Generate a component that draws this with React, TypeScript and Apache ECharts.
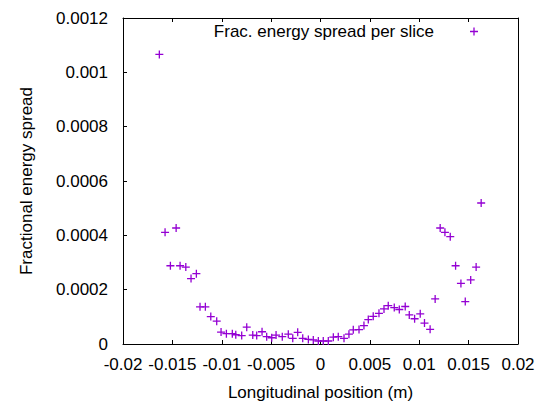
import React, { useEffect, useRef } from "react";
import * as echarts from "echarts";

// Longitudinal position (m) of each slice
const positions: number[] = [
  -0.01632, -0.01574, -0.0152, -0.01462, -0.01422, -0.01364, -0.01311, -0.01257,
  -0.0122, -0.01166, -0.01111, -0.01051, -0.01007, -0.00953, -0.00893, -0.00858,
  -0.00798, -0.00747, -0.00686, -0.00646, -0.00592, -0.00545, -0.00494, -0.0045,
  -0.00387, -0.00326, -0.00281, -0.00231, -0.0018, -0.00123, -0.00073, -0.00022,
  0.00028, 0.00079, 0.0013, 0.0018, 0.00238, 0.00288, 0.00332, 0.0039,
  0.0044, 0.00484, 0.00534, 0.00592, 0.00643, 0.00686, 0.00747, 0.00798,
  0.00858, 0.00899, 0.00953, 0.0101, 0.01053, 0.0111, 0.01161, 0.01212,
  0.0126, 0.01314, 0.01368, 0.01422, 0.01466, 0.01521, 0.01576, 0.01627,
];

// Fractional energy spread of each slice
const spreads: number[] = [
  0.001066, 0.000411, 0.000288, 0.000427, 0.000288, 0.000283, 0.000241, 0.000259,
  0.000137, 0.000137, 0.000101, 0.000084, 0.000044, 0.000038, 0.000038, 0.000034,
  0.000031, 0.000062, 0.000033, 0.000031, 0.000045, 0.000027, 0.000023, 0.000033,
  0.000027, 0.000036, 0.000021, 0.000043, 0.000021, 0.000017, 0.000015, 0.000011,
  0.000011, 0.000011, 0.000025, 0.000027, 0.000021, 0.000036, 0.000052, 0.000053,
  0.000068, 0.00009, 0.000102, 0.000113, 0.000129, 0.000141, 0.000134, 0.000127,
  0.000138, 0.000107, 0.000093, 0.000111, 0.000077, 0.000054, 0.000166, 0.000427,
  0.000411, 0.000395, 0.000288, 0.000223, 0.000156, 0.000236, 0.000283, 0.000519,
];

const seriesName = "Frac. energy spread per slice";
const xAxisTitle = "Longitudinal position (m)";
const yAxisTitle = "Fractional energy spread";

const PLUS = "path://M0,3.35h8v1.3h-8z M3.35,0h1.3v8h-1.3z";
const COLOR = "#9400d3";
const FONT = "'Liberation Sans', Arial, sans-serif";

export default function App() {
  const ref = useRef<HTMLDivElement>(null);

  useEffect(() => {
    if (!ref.current) return;
    const chart = echarts.init(ref.current, undefined, { renderer: "svg" });
    const data = positions.map((x, i) => [x, spreads[i]]);
    const labelStyle = { color: "#000", fontSize: 17, fontFamily: FONT };
    chart.setOption({
      animation: false,
      backgroundColor: "#fff",
      textStyle: { fontFamily: FONT },
      grid: { left: 123, right: 20, top: 18, bottom: 63, containLabel: false },
      legend: {
        data: [{ name: seriesName, icon: PLUS }],
        top: 18,
        right: 55,
        align: "right",
        itemWidth: 70,
        itemHeight: 8,
        textStyle: { ...labelStyle },
      },
      xAxis: [
        {
          type: "value",
          min: -0.02,
          max: 0.02,
          interval: 0.005,
          name: xAxisTitle,
          nameLocation: "middle",
          nameGap: 40,
          nameTextStyle: { ...labelStyle },
          axisLine: { show: true, onZero: false, lineStyle: { color: "#000", width: 1 } },
          axisTick: { show: true, inside: true, length: 4, lineStyle: { color: "#000" } },
          axisLabel: { ...labelStyle, margin: 12 },
          splitLine: { show: false },
        },
        {
          type: "value",
          position: "top",
          min: -0.02,
          max: 0.02,
          interval: 0.005,
          axisLine: { show: true, onZero: false, lineStyle: { color: "#000", width: 1 } },
          axisTick: { show: true, inside: true, length: 4, lineStyle: { color: "#000" } },
          axisLabel: { show: false },
          splitLine: { show: false },
        },
      ],
      yAxis: [
        {
          type: "value",
          min: 0,
          max: 0.0012,
          interval: 0.0002,
          name: yAxisTitle,
          nameLocation: "middle",
          nameGap: 88,
          nameTextStyle: { ...labelStyle },
          axisLine: { show: true, onZero: false, lineStyle: { color: "#000", width: 1 } },
          axisTick: { show: true, inside: true, length: 4, lineStyle: { color: "#000" } },
          axisLabel: { ...labelStyle, margin: 15 },
          splitLine: { show: false },
        },
        {
          type: "value",
          position: "right",
          min: 0,
          max: 0.0012,
          interval: 0.0002,
          axisLine: { show: true, onZero: false, lineStyle: { color: "#000", width: 1 } },
          axisTick: { show: false },
          axisLabel: { show: false },
          splitLine: { show: false },
        },
      ],
      series: [
        {
          name: seriesName,
          type: "scatter",
          xAxisIndex: 0,
          yAxisIndex: 0,
          data,
          symbol: PLUS,
          symbolSize: 8,
          itemStyle: { color: COLOR, opacity: 1 },
          emphasis: { disabled: true },
        },
      ],
    });
    return () => chart.dispose();
  }, []);

  return (
    <div
      ref={ref}
      style={{ position: "absolute", left: 0, top: 0, width: 538, height: 407 }}
    />
  );
}
